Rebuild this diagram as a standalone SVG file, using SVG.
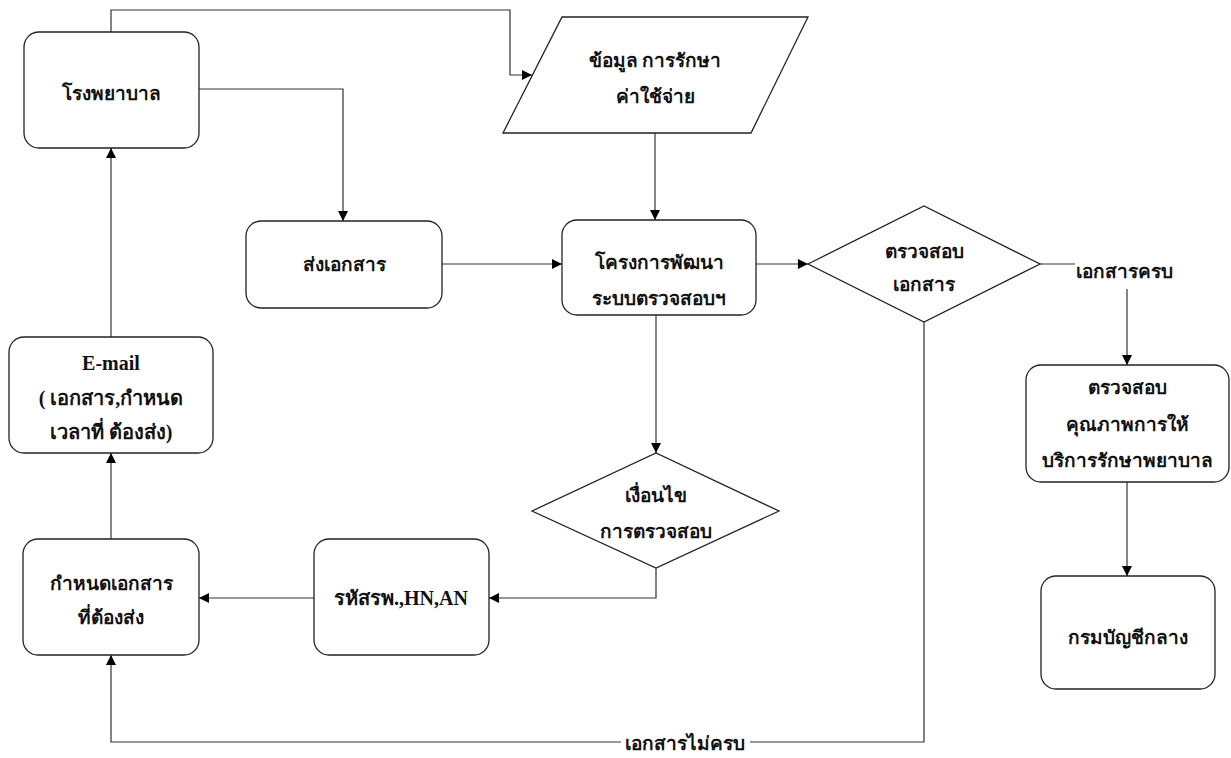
<svg xmlns="http://www.w3.org/2000/svg" width="1231" height="758" viewBox="0 0 1231 758">
<style>
.n{fill:#fff;stroke:#222;stroke-width:1.3}
.c{fill:none;stroke:#333;stroke-width:1.2}
.t{font-family:"Noto Sans","DejaVu Sans",sans-serif;font-weight:bold;font-size:19px;fill:#111;text-anchor:middle}
.s{font-family:"Liberation Serif",serif;font-weight:bold;font-size:20px;fill:#111;text-anchor:middle}
</style>
<defs>
<marker id="a" viewBox="0 0 10 10" refX="10" refY="5" markerWidth="10" markerHeight="10" markerUnits="userSpaceOnUse" orient="auto"><path d="M0,0 L10,5 L0,10 z" fill="#000"/></marker>
</defs>
<rect width="1231" height="758" fill="#fff"/>
<g id="connectors">
<path class="c" d="M111,32 V10 H510 V75 H532" marker-end="url(#a)"/>
<path class="c" d="M199,89 H343 V221" marker-end="url(#a)"/>
<path class="c" d="M655,133 V220" marker-end="url(#a)"/>
<path class="c" d="M442,264 H562" marker-end="url(#a)"/>
<path class="c" d="M756,264 H808" marker-end="url(#a)"/>
<path class="c" d="M1040,264 H1075"/>
<path class="c" d="M1127,289 V365" marker-end="url(#a)"/>
<path class="c" d="M1127,482 V576" marker-end="url(#a)"/>
<path class="c" d="M656,315 V453" marker-end="url(#a)"/>
<path class="c" d="M656,568 V598 H489" marker-end="url(#a)"/>
<path class="c" d="M314,598 H199" marker-end="url(#a)"/>
<path class="c" d="M111,539 V453" marker-end="url(#a)"/>
<path class="c" d="M111,337 V148" marker-end="url(#a)"/>
<path class="c" d="M924,322 V742 H111 V655" marker-end="url(#a)"/>
<rect x="621" y="732" width="129" height="20" fill="#fff"/>
<text class="t" x="685" y="750">เอกสารไม่ครบ</text>
<text class="t" x="1124" y="278">เอกสารครบ</text>
</g>
<g id="hospital"><rect class="n" x="24" y="32" width="175" height="116" rx="15"/><text class="t" x="111" y="100">โรงพยาบาล</text></g>
<g id="data"><polygon class="n" points="562,17 808,17 751,133 503,133"/><text class="t" x="655" y="67">ข้อมูล การรักษา</text><text class="t" x="655" y="103">ค่าใช้จ่าย</text></g>
<g id="send"><rect class="n" x="246" y="221" width="196" height="87" rx="15"/><text class="t" x="344" y="271">ส่งเอกสาร</text></g>
<g id="project"><rect class="n" x="562" y="220" width="194" height="95" rx="15"/><text class="t" x="659" y="269">โครงการพัฒนา</text><text class="t" x="659" y="305">ระบบตรวจสอบฯ</text></g>
<g id="checkdoc"><polygon class="n" points="808,264 924,206 1040,264 924,322"/><text class="t" x="924" y="258">ตรวจสอบ</text><text class="t" x="924" y="291">เอกสาร</text></g>
<g id="quality"><rect class="n" x="1026" y="365" width="203" height="117" rx="15"/><text class="t" x="1127" y="394">ตรวจสอบ</text><text class="t" x="1127" y="431">คุณภาพการให้</text><text class="t" x="1127" y="467">บริการรักษาพยาบาล</text></g>
<g id="cgd"><rect class="n" x="1041" y="576" width="174" height="113" rx="15"/><text class="t" x="1128" y="644">กรมบัญชีกลาง</text></g>
<g id="condition"><polygon class="n" points="532,511 656,453 779,511 656,568"/><text class="t" x="656" y="502">เงื่อนไข</text><text class="t" x="656" y="538">การตรวจสอบ</text></g>
<g id="codes"><rect class="n" x="314" y="539" width="175" height="116" rx="15"/><text class="s" x="401" y="605">รหัสรพ.,HN,AN</text></g>
<g id="define"><rect class="n" x="23" y="539" width="176" height="116" rx="15"/><text class="t" x="111" y="590">กำหนดเอกสาร</text><text class="t" x="111" y="624">ที่ต้องส่ง</text></g>
<g id="email"><rect class="n" x="9" y="337" width="204" height="116" rx="15"/><text class="s" x="111" y="370">E-mail</text><text class="s" x="111" y="405">( เอกสาร,กำหนด</text><text class="s" x="111" y="439">เวลาที่ ต้องส่ง)</text></g>
</svg>
